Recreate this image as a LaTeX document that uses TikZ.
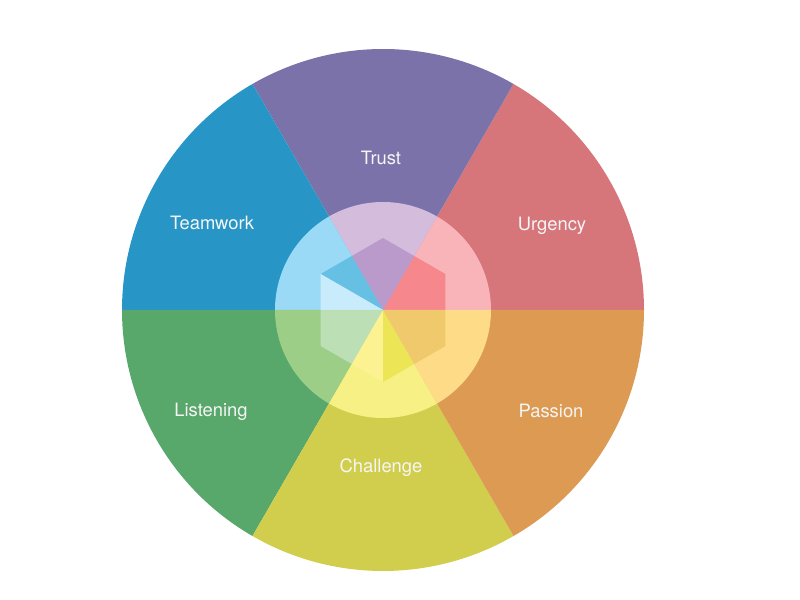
\documentclass[tikz,border=0pt]{standalone}
\usepackage{fontspec}
\setmainfont{TeX Gyre Heros}
\usetikzlibrary{calc}
\definecolor{oTrust}{HTML}{7A72A9}
\definecolor{oUrg}{HTML}{D6767B}
\definecolor{oPas}{HTML}{DD9A53}
\definecolor{oCha}{HTML}{D2CE4D}
\definecolor{oLis}{HTML}{58A76B}
\definecolor{oTea}{HTML}{2796C7}
\definecolor{iTrust}{HTML}{D4BCDD}
\definecolor{iUrg}{HTML}{F9B4B9}
\definecolor{iPas}{HTML}{FDDB87}
\definecolor{iCha}{HTML}{F7F085}
\definecolor{iLis}{HTML}{9DCE87}
\definecolor{iTea}{HTML}{9ADAF7}
\definecolor{hTrust}{HTML}{B99ACB}
\definecolor{hUrg}{HTML}{F5878D}
\definecolor{hPas}{HTML}{EFC96B}
\definecolor{hChaL}{HTML}{FDF291}
\definecolor{hChaR}{HTML}{ECE656}
\definecolor{hLis}{HTML}{BDDFB6}
\definecolor{hTeaU}{HTML}{65C0E3}
\definecolor{hTeaL}{HTML}{C9ECFC}
\tikzset{
  lbl/.style={text=white!96!black, font=\fontsize{13.8}{16}\selectfont, inner sep=0pt},
}
\newcommand{\wedgefill}[4]{% color, start, end, radius
  \fill[#1] (C) -- ++(#2:#4) arc[start angle=#2, end angle=#3, radius=#4] -- cycle;}
\begin{document}
\begin{tikzpicture}[x=0.75pt,y=0.75pt]
\useasboundingbox (0,0) rectangle (800,600);
\coordinate (C) at (383,290);
% outer ring
\wedgefill{oUrg}{0}{60}{261}
\wedgefill{oTrust}{60}{120}{261}
\wedgefill{oTea}{120}{180}{261}
\wedgefill{oLis}{180}{240}{261}
\wedgefill{oCha}{240}{300}{261}
\wedgefill{oPas}{300}{360}{261}
% inner circle
\wedgefill{iUrg}{0}{60}{108}
\wedgefill{iTrust}{60}{120}{108}
\wedgefill{iTea}{120}{180}{108}
\wedgefill{iLis}{180}{240}{108}
\wedgefill{iCha}{240}{300}{108}
\wedgefill{iPas}{300}{360}{108}
% hexagon
\begin{scope}
\clip ($(C)+(30:72)$) -- ($(C)+(90:72)$) -- ($(C)+(150:72)$) -- ($(C)+(210:72)$) -- ($(C)+(270:72)$) -- ($(C)+(330:72)$) -- cycle;
\wedgefill{hUrg}{0}{60}{90}
\wedgefill{hTrust}{60}{120}{90}
\wedgefill{hTeaU}{120}{150}{90}
\wedgefill{hTeaL}{150}{180}{90}
\wedgefill{hLis}{180}{240}{90}
\wedgefill{hChaL}{240}{270}{90}
\wedgefill{hChaR}{270}{300}{90}
\wedgefill{hPas}{300}{360}{90}
\end{scope}
% labels
\node[lbl] (trust) at (381,442.5) {Trust};
\node[lbl] (teamwork) at (212,377) {Teamwork};
\node[lbl] (urgency) at (552,374.5) {Urgency};
\node[lbl] (passion) at (551,189) {Passion};
\node[lbl] (challenge) at (381,132.5) {Challenge};
\node[lbl] (listening) at (211,188.5) {Listening};
\end{tikzpicture}
\end{document}
